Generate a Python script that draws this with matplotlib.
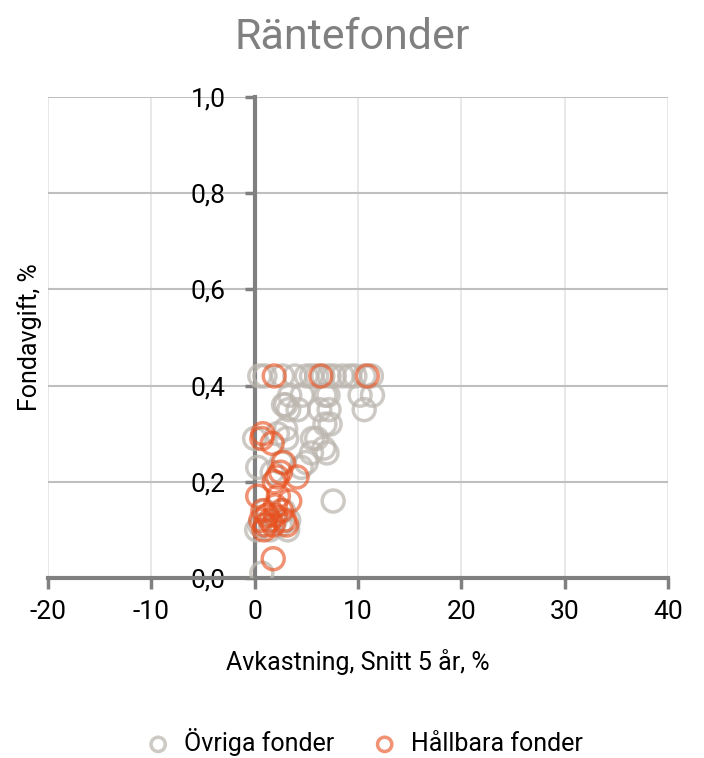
import matplotlib.pyplot as plt
from matplotlib.ticker import FuncFormatter

plt.rcParams['font.family'] = ['Roboto', 'DejaVu Sans']
plt.rcParams['axes.unicode_minus'] = False

# Övriga fonder (avkastning %, avgift %)
ovriga_x = [0.5, 1.0, 2.7, 3.9, 5.0, 5.5, 6.0, 6.6, 7.2, 7.7, 8.5, 9.2, 9.7, 10.6, 11.3,
            3.4, 4.6, 6.8, 7.1, 10.2, 11.4,
            3.0, 2.8,
            3.3, 4.2, 6.3, 7.2, 10.6,
            7.3, 6.8, 3.0, 2.2,
            0.0, 3.1, 5.6, 6.0,
            6.7, 7.0, 5.5, 5.0, 2.6, 0.3, 4.5, 1.7,
            7.6, 1.0, 2.8, 2.0, 3.3, 0.5, 2.5, 0.2, 3.2, 1.5, 0.7]
ovriga_y = [0.42, 0.42, 0.42, 0.42, 0.42, 0.42, 0.42, 0.42, 0.42, 0.42, 0.42, 0.42, 0.42, 0.42, 0.42,
            0.38, 0.38, 0.38, 0.38, 0.38, 0.38,
            0.36, 0.36,
            0.35, 0.35, 0.35, 0.35, 0.35,
            0.32, 0.32, 0.31, 0.30,
            0.29, 0.29, 0.29, 0.29,
            0.27, 0.26, 0.26, 0.24, 0.24, 0.23, 0.23, 0.22,
            0.16, 0.14, 0.14, 0.12, 0.12, 0.11, 0.11, 0.10, 0.10, 0.10, 0.01]

# Hållbara fonder
hallbara_x = [1.9, 6.4, 10.9, 0.8, 0.7, 1.7, 2.8, 2.2, 4.1, 2.5, 1.9, 0.3, 2.3, 3.4,
              2.0, 0.8, 2.6, 1.2, 2.0, 0.6, 1.5, 2.9, 1.0, 1.8, 3.1, 0.9, 1.8]
hallbara_y = [0.42, 0.42, 0.42, 0.30, 0.29, 0.28, 0.24, 0.21, 0.21, 0.22, 0.20, 0.17, 0.17, 0.16,
              0.15, 0.14, 0.14, 0.13, 0.13, 0.12, 0.12, 0.12, 0.11, 0.11, 0.11, 0.10, 0.04]

fig = plt.figure(figsize=(7.04, 7.58), dpi=100)
ax = fig.add_axes([0.068, 0.2375, 0.881, 0.6345])

ax.scatter(ovriga_x, ovriga_y, s=250, facecolors='none', edgecolors='#bdb7b0',
           linewidths=2.5, alpha=0.75, label='Övriga fonder', zorder=3)
ax.scatter(hallbara_x, hallbara_y, s=250, facecolors='none', edgecolors='#e8501e',
           linewidths=2.5, alpha=0.62, label='Hållbara fonder', zorder=4)

ax.set_xlim(-20, 40)
ax.set_ylim(0, 1.0)
ax.set_xticks(range(-20, 41, 10))
ax.set_yticks([0, 0.2, 0.4, 0.6, 0.8, 1.0])
ax.yaxis.set_major_formatter(FuncFormatter(lambda v, p: f'{v:.1f}'.replace('.', ',')))

# gridlines
for yv in [0.2, 0.4, 0.6, 0.8, 1.0]:
    ax.axhline(yv, color='#bfbfbf', lw=1.5, zorder=1)
for xv in range(-20, 41, 10):
    ax.axvline(xv, color='#e6e6e6', lw=1.3, zorder=0)

for s in ['top', 'right']:
    ax.spines[s].set_visible(False)
ax.spines['left'].set_position(('data', 0))
ax.spines['left'].set_color('#808080')
ax.spines['left'].set_linewidth(3)
ax.spines['bottom'].set_color('#808080')
ax.spines['bottom'].set_linewidth(3)

ax.tick_params(axis='x', length=8, width=2.5, color='#808080', labelsize=19, pad=8)
ax.tick_params(axis='y', length=7, width=2.5, color='#808080', labelsize=19, pad=14)

ax.set_xlabel('Avkastning, Snitt 5 år, %', fontsize=18, labelpad=18)
ax.set_ylabel('Fondavgift, %', fontsize=18, labelpad=0)
ax.yaxis.set_label_coords(-0.01, 0.5)

fig.suptitle('Räntefonder', fontsize=31, color='#808080', y=0.978)

leg = ax.legend(loc='upper center', bbox_to_anchor=(0.5, -0.265), ncol=2, frameon=False,
                fontsize=18, handletextpad=0.05, columnspacing=1.0, markerscale=0.65)

fig.savefig('out.png', dpi=100)
